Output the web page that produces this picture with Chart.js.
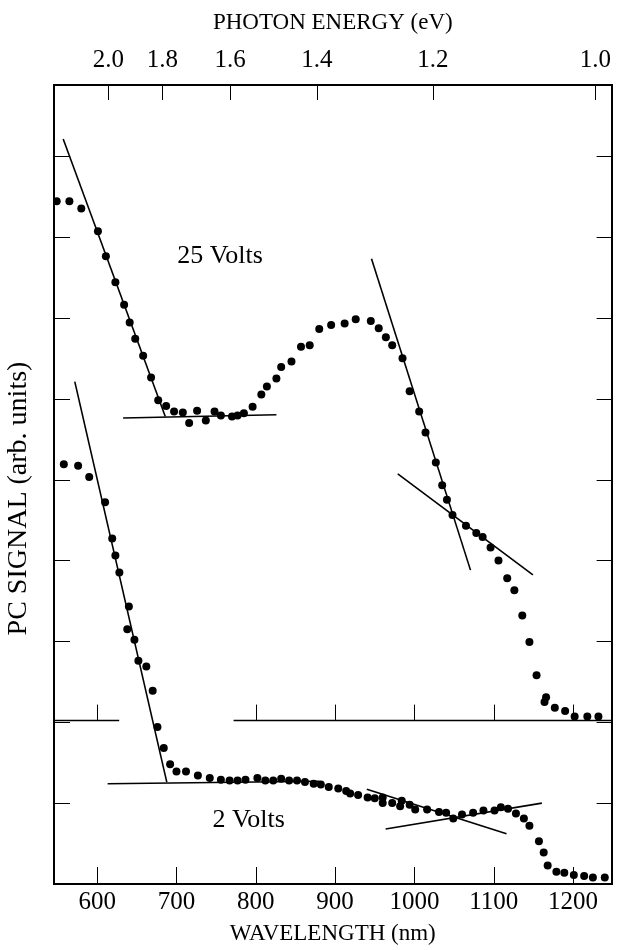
<!DOCTYPE html>
<html>
<head>
<meta charset="utf-8">
<script src="https://cdn.jsdelivr.net/npm/chart.js@4.4.1/dist/chart.umd.min.js"></script>
<style>
  html, body { margin: 0; padding: 0; background: #fff; }
  canvas { display: block; }
</style>
</head>
<body>
<canvas id="pc" width="621" height="950"></canvas>
<script>
// wavelength (nm) / signal (arb. units)
const v25Wave = [549,565,580,601,611,623,634,641,648,658,668,677,687,697,708,716,726,737,748,756,770,777,785,796,807,814,826,832,845,857,868,880,895,912,926,945,955,964,972,985,994,1006,1014,1027,1035,1041,1048,1065,1078,1086,1096,1106,1117,1126,1136,1145,1154,1164,1166,1177,1190,1202,1218,1232];
const v25Signal = [8.44,8.44,8.35,8.07,7.76,7.44,7.16,6.94,6.74,6.53,6.26,5.98,5.91,5.84,5.83,5.70,5.85,5.73,5.84,5.79,5.78,5.79,5.82,5.90,6.05,6.15,6.25,6.39,6.46,6.64,6.66,6.86,6.91,6.93,6.98,6.96,6.87,6.76,6.66,6.50,6.09,5.84,5.58,5.21,4.93,4.75,4.56,4.43,4.34,4.29,4.16,4.00,3.78,3.63,3.32,2.99,2.58,2.25,2.31,2.18,2.14,2.07,2.07,2.07];

const v2Wave = [558,576,590,610,619,623,628,640,638,647,652,662,670,676,684,692,700,712,727,742,756,767,777,787,802,812,822,832,842,852,862,873,882,892,904,914,919,929,941,950,960,960,972,984,982,994,1001,1016,1031,1040,1049,1060,1074,1087,1101,1109,1118,1128,1138,1145,1157,1163,1168,1179,1189,1201,1214,1225,1240];
const v2Signal = [5.19,5.17,5.03,4.72,4.27,4.06,3.85,3.43,3.15,3.02,2.76,2.69,2.39,1.94,1.68,1.48,1.39,1.39,1.34,1.31,1.29,1.28,1.28,1.29,1.31,1.28,1.28,1.30,1.28,1.28,1.26,1.24,1.23,1.20,1.18,1.15,1.12,1.10,1.07,1.06,1.07,1.00,1.00,1.03,0.96,0.98,0.92,0.92,0.89,0.88,0.81,0.86,0.88,0.91,0.91,0.95,0.93,0.87,0.81,0.72,0.53,0.39,0.23,0.15,0.14,0.11,0.10,0.08,0.08];

// hand-drawn tangent lines: [x1, y1, x2, y2]
const fit25 = [[557.2,9.21,685.9,5.78],[632.7,5.76,826.0,5.80],[945.9,7.73,1070.7,3.88],[979.0,5.07,1149.4,3.82]];
const fit2 = [[571.8,6.21,687.8,1.26],[613.2,1.24,880.3,1.27],[940.0,1.17,1116.1,0.62],[963.7,0.68,1160.7,1.00]];

// zero line of the 25 V curve (it has a gap) and its tick marks
const base25Level = 2.02;
const base25Segments = [[545.6,627.8],[772,1248.6]];
const base25Ticks = [600,800,900,1000,1100,1200];

const xTicks = [600,700,800,900,1000,1100,1200];
const energyTicks = [2.0,1.8,1.6,1.4,1.2,1.0];
const yTicks = [1,2,3,4,5,6,7,8,9];
const HC = 1228;   // nm*eV, as the top scale is drawn in the figure

const X_MIN = 545.6, X_MAX = 1248.6, Y_MAX = 9.877;

const notes = [
  { text: '25 Volts', x: 755, y: 7.76 },
  { text: '2 Volts', x: 791, y: 0.79 }
];

const serif = "'Liberation Serif', 'DejaVu Serif', serif";
Chart.defaults.font.family = serif;
Chart.defaults.color = '#000';

const toPts = (xs, ys) => xs.map((x, i) => ({ x: x, y: ys[i] }));
const segSet = (s, w) => ({
  type: 'line',
  data: [{ x: s[0], y: s[1] }, { x: s[2], y: s[3] }],
  borderColor: '#000',
  borderWidth: w,
  pointRadius: 0,
  showLine: true
});

const datasets = [];
fit25.concat(fit2).forEach(s => datasets.push(segSet(s, 1.6)));
base25Segments.forEach(s => datasets.push(segSet([s[0], base25Level, s[1], base25Level], 1.5)));
[[v25Wave, v25Signal], [v2Wave, v2Signal]].forEach(([xs, ys]) => {
  datasets.push({
    type: 'scatter',
    data: toPts(xs, ys),
    backgroundColor: '#000',
    borderWidth: 0,
    pointRadius: 4
  });
});

const frameMarks = {
  id: 'frameMarks',
  afterDatasetsDraw(chart) {
    const { ctx, chartArea: a, scales: { x, x2, y } } = chart;
    ctx.save();
    ctx.strokeStyle = '#000';
    ctx.lineWidth = 1;
    ctx.beginPath();
    xTicks.forEach(v => {
      const px = Math.round(x.getPixelForValue(v)) + 0.5;
      ctx.moveTo(px, a.bottom); ctx.lineTo(px, a.bottom - 17);
    });
    energyTicks.forEach(e => {
      const px = Math.round(x2.getPixelForValue(HC / e)) + 0.5;
      ctx.moveTo(px, a.top); ctx.lineTo(px, a.top + 15);
    });
    yTicks.forEach(v => {
      const py = Math.round(y.getPixelForValue(v)) + 0.5;
      ctx.moveTo(a.left, py); ctx.lineTo(a.left + 16, py);
      ctx.moveTo(a.right, py); ctx.lineTo(a.right - 15, py);
    });
    const by = y.getPixelForValue(base25Level);
    base25Ticks.forEach(v => {
      const px = Math.round(x.getPixelForValue(v)) + 0.5;
      ctx.moveTo(px, by); ctx.lineTo(px, by - 16);
    });
    ctx.stroke();

    ctx.fillStyle = '#000';
    ctx.font = '26px ' + serif;
    ctx.textAlign = 'center';
    ctx.textBaseline = 'middle';
    notes.forEach(n => ctx.fillText(n.text, x.getPixelForValue(n.x), y.getPixelForValue(n.y)));
    ctx.restore();
  }
};

new Chart(document.getElementById('pc'), {
  type: 'scatter',
  data: { datasets: datasets },
  options: {
    responsive: false,
    animation: false,
    devicePixelRatio: 1,
    layout: { padding: 0 },
    plugins: { legend: { display: false }, tooltip: { enabled: false } },
    scales: {
      x: {
        type: 'linear', position: 'bottom', min: X_MIN, max: X_MAX,
        afterBuildTicks: axis => { axis.ticks = xTicks.map(v => ({ value: v })); },
        afterFit: axis => { axis.height = 66; },
        grid: { display: false, drawTicks: false },
        border: { display: true, color: '#000', width: 2 },
        ticks: { font: { size: 25 }, padding: 3, maxRotation: 0, callback: v => String(v) },
        title: { display: true, text: 'WAVELENGTH (nm)', font: { size: 23 }, padding: { top: 0, bottom: 2 } }
      },
      x2: {
        type: 'linear', position: 'top', min: X_MIN, max: X_MAX,
        afterBuildTicks: axis => { axis.ticks = energyTicks.map(e => ({ value: HC / e })); },
        afterFit: axis => { axis.height = 85; },
        grid: { display: false, drawTicks: false },
        border: { display: true, color: '#000', width: 2 },
        ticks: { font: { size: 25 }, padding: 10, maxRotation: 0, callback: v => (HC / v).toFixed(1) },
        title: { display: true, text: 'PHOTON ENERGY (eV)', font: { size: 23 }, padding: { top: 9, bottom: 0 } }
      },
      y: {
        type: 'linear', position: 'left', min: 0, max: Y_MAX,
        afterBuildTicks: axis => { axis.ticks = yTicks.map(v => ({ value: v })); },
        afterFit: axis => { axis.width = 54; },
        grid: { display: false, drawTicks: false },
        border: { display: true, color: '#000', width: 2 },
        ticks: { display: false },
        title: { display: true, text: 'PC SIGNAL (arb. units)    ', font: { size: 28 }, padding: { top: 2, bottom: 0 } }
      },
      y2: {
        type: 'linear', position: 'right', min: 0, max: Y_MAX,
        afterFit: axis => { axis.width = 2; },
        grid: { display: false, drawTicks: false },
        border: { display: true, color: '#000', width: 2 },
        ticks: { display: false }
      }
    }
  },
  plugins: [frameMarks]
});
</script>
</body>
</html>
